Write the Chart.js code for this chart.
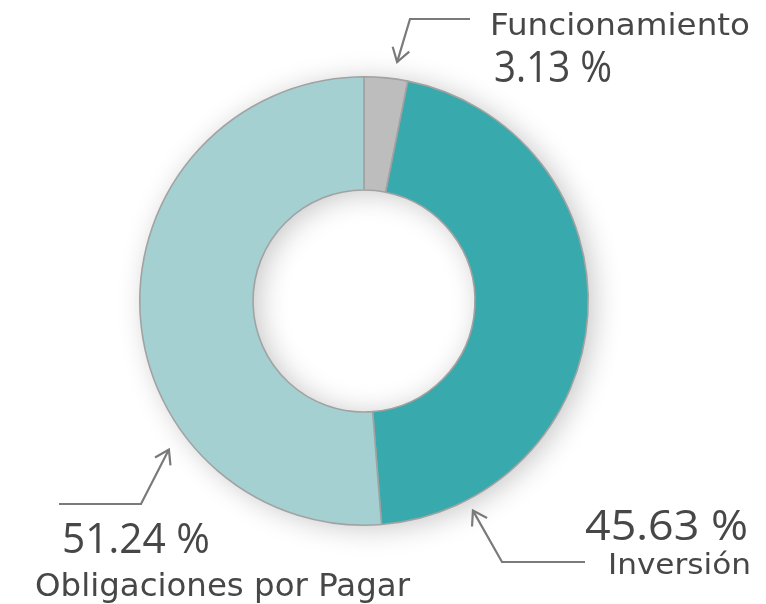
<!DOCTYPE html>
<html>
<head>
<meta charset="utf-8">
<script src="https://cdn.jsdelivr.net/npm/chart.js@4"></script>
<style>
  html, body { margin: 0; padding: 0; background: #fff; }
  #wrap { width: 766px; height: 604px; }
</style>
</head>
<body>
<div id="wrap"><canvas id="dona" width="766" height="604"></canvas></div>
<script>
// ─── DATA ───────────────────────────────────────────────
const categories = ['Funcionamiento', 'Inversión', 'Obligaciones por Pagar'];
const percents = [3.13, 45.63, 51.24];
const sliceColors = ['#bdbdbd', '#38a9ac', '#a4d0d2'];

// callout layout: where the arrow meets the slice (fraction of the slice angle,
// distance past the rim), the elbow, the tail and the two text boxes
const callouts = [
  { frac: 0.70, gap: 17, elbow: [410, 19], tail: [470, 19],
    name:  { x: 490, base: 35,  cap: 22, w: 260 },
    value: { x: 494, base: 82,  cap: 31, w: 118 } },
  { frac: 0.86, gap: 12, elbow: [502, 562], tail: [585, 562],
    name:  { x: 608, base: 574, cap: 21, w: 143 },
    value: { x: 585, base: 540, cap: 30, w: 163 } },
  { frac: 0.31, gap: 21, elbow: [141, 504], tail: [59, 504],
    name:  { x: 35,  base: 596, cap: 23, w: 375 },
    value: { x: 62,  base: 553, cap: 30, w: 148 } },
];

const NAME_FONT = { family: '"DejaVu Sans", sans-serif', weight: 'normal', capRatio: 0.729 };
const VALUE_FONT = { family: '"Open Sans", sans-serif', weight: 'normal', capRatio: 0.714 };
const TEXT_COLOR = '#474747';
const ARROW_COLOR = '#7a7a7a';

function fitText(ctx, text, box, font) {
  const size = box.cap / font.capRatio;
  ctx.font = `${font.weight} ${size}px ${font.family}`;
  const w = ctx.measureText(text).width;
  ctx.save();
  ctx.translate(box.x, box.base);
  ctx.scale(box.w / w, 1);
  ctx.textAlign = 'left';
  ctx.textBaseline = 'alphabetic';
  ctx.fillStyle = TEXT_COLOR;
  ctx.fillText(text, 0, 0);
  ctx.restore();
}

// soft shadow under the whole ring (drawn once so slices don't shade each other)
const ringShadow = {
  id: 'ringShadow',
  beforeDatasetsDraw(chart) {
    const arc = chart.getDatasetMeta(0).data[0];
    if (!arc) return;
    const { x, y, outerRadius, innerRadius } = arc.getProps(['x', 'y', 'outerRadius', 'innerRadius'], true);
    const ctx = chart.ctx;
    ctx.save();
    ctx.shadowColor = 'rgba(0,0,0,0.22)';
    ctx.shadowBlur = 28;
    ctx.shadowOffsetX = 6;
    ctx.shadowOffsetY = 3;
    ctx.fillStyle = '#ffffff';
    ctx.beginPath();
    ctx.arc(x, y, outerRadius, 0, Math.PI * 2);
    ctx.arc(x, y, innerRadius, 0, Math.PI * 2, true);
    ctx.fill();
    ctx.restore();
  }
};

const calloutPlugin = {
  id: 'callouts',
  afterDatasetsDraw(chart) {
    const ctx = chart.ctx;
    const arcs = chart.getDatasetMeta(0).data;
    arcs.forEach((arc, i) => {
      const c = callouts[i];
      const { x, y, startAngle, endAngle, outerRadius } =
        arc.getProps(['x', 'y', 'startAngle', 'endAngle', 'outerRadius'], true);
      const a = startAngle + (endAngle - startAngle) * c.frac;
      const r = outerRadius + c.gap;
      const tip = [x + Math.cos(a) * r, y + Math.sin(a) * r];

      ctx.save();
      ctx.strokeStyle = ARROW_COLOR;
      ctx.lineWidth = 2.2;
      ctx.lineJoin = 'miter';
      ctx.beginPath();
      ctx.moveTo(c.tail[0], c.tail[1]);
      ctx.lineTo(c.elbow[0], c.elbow[1]);
      ctx.lineTo(tip[0], tip[1]);
      ctx.stroke();

      // arrow head
      const dir = Math.atan2(tip[1] - c.elbow[1], tip[0] - c.elbow[0]);
      const len = 16, spread = Math.PI / 5.5;
      ctx.beginPath();
      ctx.moveTo(tip[0] - Math.cos(dir - spread) * len, tip[1] - Math.sin(dir - spread) * len);
      ctx.lineTo(tip[0], tip[1]);
      ctx.lineTo(tip[0] - Math.cos(dir + spread) * len, tip[1] - Math.sin(dir + spread) * len);
      ctx.stroke();
      ctx.restore();

      fitText(ctx, categories[i], c.name, NAME_FONT);
      fitText(ctx, percents[i].toFixed(2) + ' %', c.value, VALUE_FONT);
    });
  }
};

new Chart(document.getElementById('dona'), {
  type: 'doughnut',
  data: {
    labels: categories,
    datasets: [{
      data: percents,
      backgroundColor: sliceColors,
      borderColor: '#a2a2a2',
      borderWidth: 1.6,
      hoverOffset: 0,
    }]
  },
  options: {
    responsive: false,
    animation: false,
    cutout: '49.5%',
    layout: { padding: { left: 139, right: 177, top: 76, bottom: 78 } },
    plugins: { legend: { display: false }, tooltip: { enabled: false } },
  },
  plugins: [ringShadow, calloutPlugin]
});
</script>
</body>
</html>
